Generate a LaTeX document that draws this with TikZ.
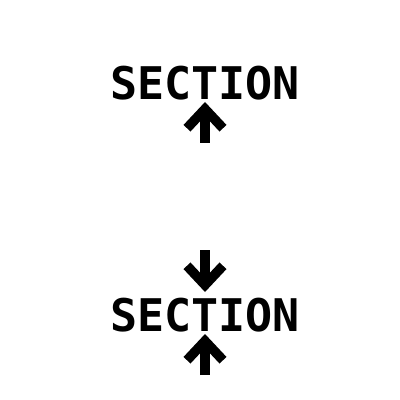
\documentclass[tikz,border=0pt]{standalone}
\usepackage{fontspec}
\setmonofont{DejaVu Sans Mono}
\usetikzlibrary{arrows.meta,positioning}

\begin{document}
\begin{tikzpicture}[
  x=0.025cm, y=-0.025cm,
  label/.style={font=\ttfamily\bfseries\fontsize{32}{36}\selectfont,
    inner sep=0pt, anchor=base},
  arr/.style={-{Straight Barb[length=4.8mm, width=9mm, line width=2.4mm]},
    line width=2.3mm}
]
\useasboundingbox (0,0) rectangle (400,400);
\node[label] (top) at (205,100) {SECTION};
\node[label] (bot) at (205,331) {SECTION};

\coordinate (topin) at (205,143);
\coordinate (topend) at (205,102);
\coordinate (botabove) at (205,250);
\coordinate (botaend) at (205,292);
\coordinate (botbelow) at (205,375);
\coordinate (botbend) at (205,334);

\draw[arr] (topin) -- (topend);
\draw[arr] (botabove) -- (botaend);
\draw[arr] (botbelow) -- (botbend);
\end{tikzpicture}
\end{document}
